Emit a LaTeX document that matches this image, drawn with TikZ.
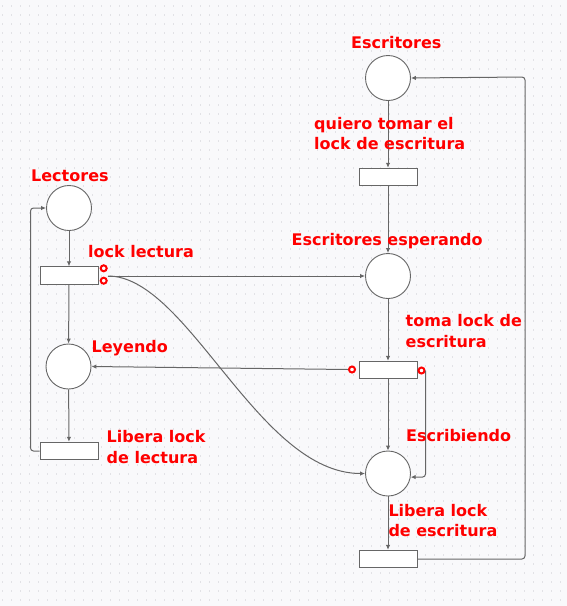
\documentclass[tikz,border=0pt]{standalone}
\usepackage{fontspec}
\setmainfont{DejaVu Sans}
\usetikzlibrary{arrows.meta}
\definecolor{bgc}{HTML}{F9F9FB}
\definecolor{dotc}{HTML}{E2E2E6}
\definecolor{linec}{HTML}{666666}
\definecolor{lblred}{HTML}{FF0000}
\tikzset{
  place/.style={circle,draw=linec,fill=white,line width=0.9pt,minimum size=45pt,inner sep=0pt},
  trans/.style={rectangle,draw=linec,fill=white,line width=0.9pt,minimum width=58pt,minimum height=17.5pt,inner sep=0pt},
  inhib/.style={circle,draw=lblred,fill=white,line width=2pt,minimum size=6pt,inner sep=0pt},
  arr/.style={draw=linec,line width=1pt,-{Latex[length=5pt,width=4.5pt]}},
  lbl/.style={text=lblred,font=\bfseries\fontsize{16}{20}\selectfont,inner sep=0pt,anchor=base west}
}
\begin{document}
\begin{tikzpicture}[x=1pt,y=-1pt]
\fill[bgc] (0,0) rectangle (567,606);
\useasboundingbox (0,0) rectangle (567,606);
\foreach \x in {2.5,11.5,...,566} {
  \foreach \y in {6,15,...,605} {
    \fill[dotc] (\x-0.6,\y-0.6) rectangle ++(1.2,1.2);
  }
}
% writers side
\node[place] (pEsc) at (388,78) {};
\node[trans] (tQuiero) at (388,177) {};
\node[place] (pEsp) at (388,276) {};
\node[trans] (tToma) at (388,370) {};
\node[place] (pEscr) at (388,473.5) {};
\node[trans] (tLibE) at (388,559) {};
% readers side
\node[place] (pLec) at (69,208) {};
\node[trans] (tLock) at (69,275.5) {};
\node[place] (pLey) at (68.5,366.5) {};
\node[trans] (tLibL) at (69,451) {};
% coordinates
\coordinate (lockOut) at (108,276);
\coordinate (cR) at (525,77);
\coordinate (cL) at (30.5,208);
% arcs
\draw[arr] (pEsc) -- (tQuiero);
\draw[arr] (tQuiero) -- (pEsp);
\draw[arr] (pEsp) -- (tToma);
\draw[arr] (tToma) -- (pEscr);
\draw[arr] (pEscr) -- (tLibE);
\draw[arr,rounded corners=3pt] (tLibE.east) -| (cR) -- (pEsc.east);
\draw[arr] (pLec) -- (tLock);
\draw[arr] (tLock) -- (pLey);
\draw[arr] (pLey) -- (tLibL);
\draw[arr,rounded corners=3pt] (tLibL.west) -| (cL) -- (pLec.west);
\draw[arr] (lockOut) -- (pEsp.west);
\draw[arr] (lockOut) .. controls (188,276) and (258,473.5) .. (pEscr.west);
% inhibitor marks
\node[inhib] (iLock1) at (103.7,268.3) {};
\node[inhib] (iLock2) at (103.7,280.7) {};
\node[inhib] (iTomaL) at (352,369.5) {};
\node[inhib] (iTomaR) at (421.5,370.5) {};
\draw[arr] (iTomaL.west) -- (pLey.east);
\draw[arr,rounded corners=3pt] (iTomaR.east) |- (pEscr.-9);
% labels
\node[lbl] (lEsc) at (351,48.3) {Escritores};
\node[lbl] (lQ1) at (314,129) {quiero tomar el};
\node[lbl] (lQ2) at (314,149.3) {lock de escritura};
\node[lbl] (lEsp) at (291.5,245) {Escritores esperando};
\node[lbl] (lT1) at (405.5,326.7) {toma lock de};
\node[lbl] (lT2) at (405.5,347.3) {escritura};
\node[lbl] (lEscr) at (406,441.7) {Escribiendo};
\node[lbl] (lLE1) at (388.3,516.7) {Libera lock};
\node[lbl] (lLE2) at (388.3,536.7) {de escritura};
\node[lbl] (lLec) at (31,181) {Lectores};
\node[lbl] (lLock) at (88,257) {lock lectura};
\node[lbl] (lLey) at (91.5,352.3) {Leyendo};
\node[lbl] (lLL1) at (106.5,442.7) {Libera lock};
\node[lbl] (lLL2) at (106.5,463.3) {de lectura};
\end{tikzpicture}
\end{document}
